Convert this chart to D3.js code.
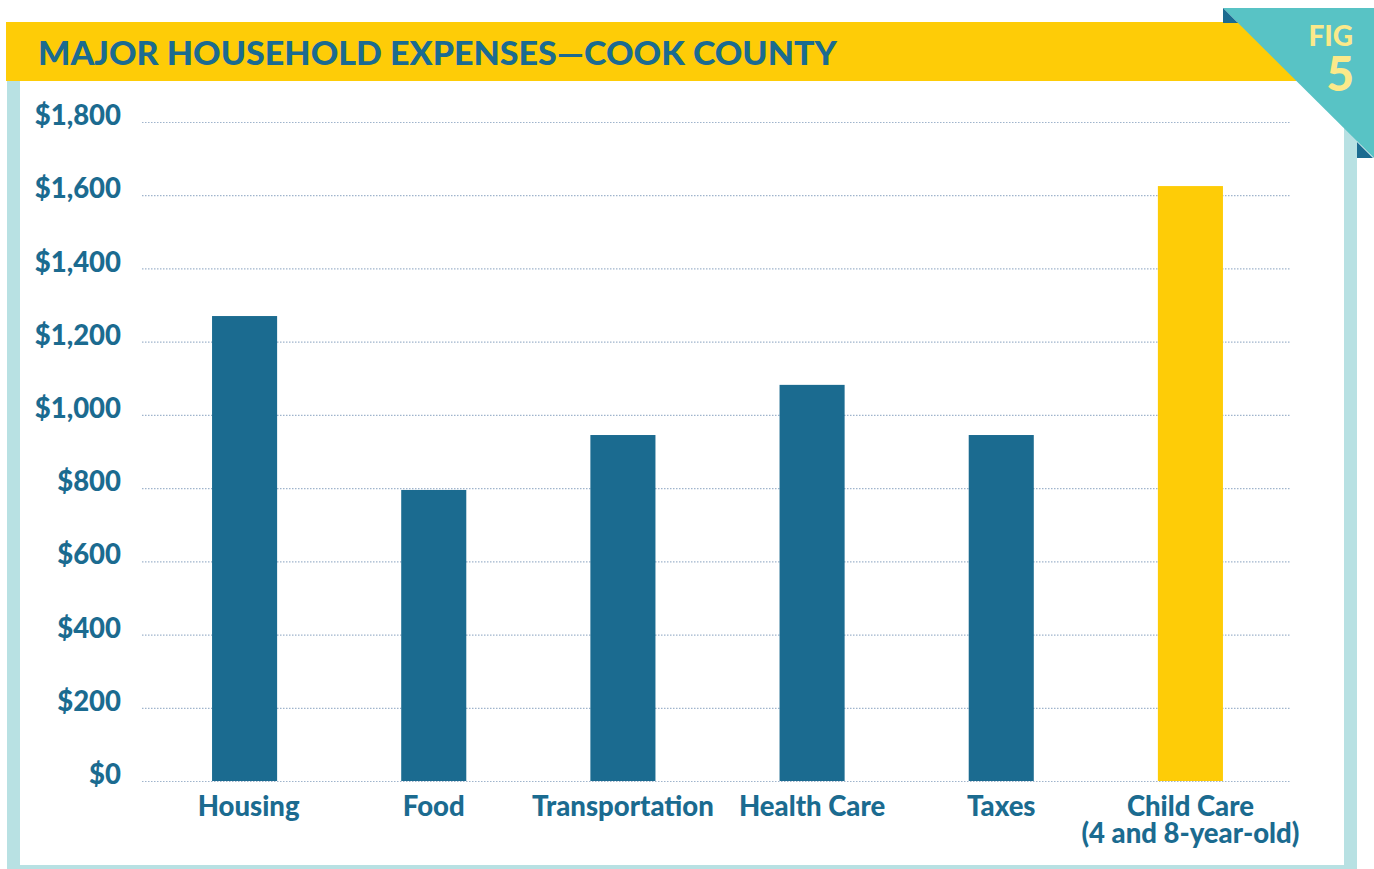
<!DOCTYPE html>
<html><head><meta charset="utf-8">
<script src="https://cdn.jsdelivr.net/npm/d3@7/dist/d3.min.js"></script>
<style>html,body{margin:0;padding:0;background:#fff;}svg{display:block;}</style>
</head><body>
<svg id="chart" width="1374" height="869"></svg>
<script>
const categories = ["Housing", "Food", "Transportation", "Health Care", "Taxes", "Child Care\n(4 and 8-year-old)"];
const values = [1270, 795, 945, 1082, 945, 1625];
const highlight = [false, false, false, false, false, true];
const yTicks = [0, 200, 400, 600, 800, 1000, 1200, 1400, 1600, 1800];
const title = "MAJOR HOUSEHOLD EXPENSES\u2014COOK COUNTY";

const BLUE = "#1b6b90", YELLOW = "#fecc07", LTEAL = "#b8e1e3", TEAL = "#58c3c5", FIGTXT = "#fbe98a";
const svg = d3.select("#chart");

// frame
svg.append("rect").attr("x",7).attr("y",81).attr("width",1350).attr("height",788).attr("fill",LTEAL);
svg.append("rect").attr("x",20).attr("y",81).attr("width",1324).attr("height",784).attr("fill","#fff");
// title band
svg.append("polygon").attr("points","6,22 1239,22 1298,81 6,81").attr("fill",YELLOW);
// corner ribbon
svg.append("polygon").attr("points","1223,8 1374,8 1374,158").attr("fill",TEAL);
svg.append("polygon").attr("points","1223,8 1238,23 1223,23").attr("fill",BLUE);
svg.append("polygon").attr("points","1357,142 1373,158 1357,158").attr("fill",BLUE);
svg.append("text").attr("x",1353).attr("y",46).attr("text-anchor","end")
  .attr("font-family","Lato").attr("font-weight",900).attr("font-size",28).attr("fill",FIGTXT).text("FIG");
svg.append("text").attr("x",1354).attr("y",91).attr("text-anchor","end")
  .attr("font-family","Lato").attr("font-weight",900).attr("font-size",48).attr("fill",FIGTXT).text("5");

// title
svg.append("text").attr("x",38).attr("y",65)
  .attr("font-family","Lato").attr("font-weight",900).attr("font-size",33).attr("fill",BLUE)
  .attr("textLength",799).attr("lengthAdjust","spacingAndGlyphs").text(title);

// scales
const y = d3.scaleLinear().domain([0,1800]).range([781,122]);
const x = d3.scaleBand().domain(categories).range([150,1285]).paddingInner(0.656).paddingOuter(0.328);

// gridlines
const grid = svg.append("g");
grid.selectAll("line").data(yTicks).join("line")
  .attr("x1",142).attr("x2",1291)
  .attr("y1",d=>y(d)+0.5).attr("y2",d=>y(d)+0.5)
  .attr("stroke","#9fb4cc").attr("stroke-width",1.2).attr("stroke-dasharray","1.5,1.5");

// y axis
const yAxis = d3.axisLeft(y).tickValues(yTicks).tickSize(0).tickPadding(0)
  .tickFormat(d => "$" + d3.format(",")(d));
const ga = svg.append("g").attr("transform","translate(121,-7)").call(yAxis);
ga.select(".domain").remove();
ga.selectAll("text").attr("font-family","Lato").attr("font-weight",900).attr("font-size",27.5)
  .attr("fill",BLUE).attr("dy","0.35em");

// bars
svg.append("g").selectAll("rect").data(categories).join("rect")
  .attr("x",d=>x(d)).attr("width",x.bandwidth())
  .attr("y",(d,i)=>y(values[i])).attr("height",(d,i)=>y(0)-y(values[i]))
  .attr("fill",(d,i)=>highlight[i]?YELLOW:BLUE);

// x axis
const xAxis = d3.axisBottom(x).tickSize(0).tickPadding(0);
const gx = svg.append("g").attr("transform","translate(0,781)").call(xAxis);
gx.select(".domain").remove();
gx.selectAll("text").attr("font-family","Lato").attr("font-weight",900).attr("font-size",27.5)
  .attr("fill",BLUE).attr("dy",null).attr("y",35)
  .each(function(d){
    const t = d3.select(this); const lines = d.split("\n"); t.text(null);
    lines.forEach((l,i)=>t.append("tspan").attr("x",0).attr("y",35+i*27).text(l));
  });
gx.selectAll(".tick").filter(d=>d==="Housing").attr("transform",d=>`translate(${x(d)+x.bandwidth()/2+4},0)`);
</script>
</body></html>
